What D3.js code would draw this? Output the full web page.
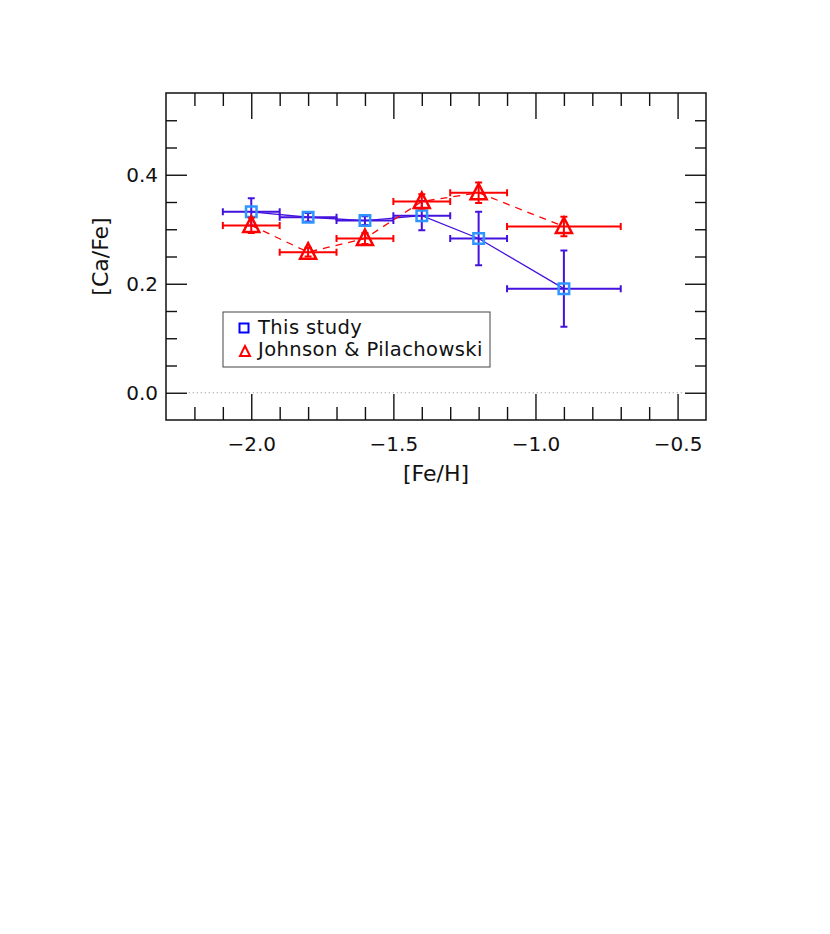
<!DOCTYPE html>
<html>
<head>
<meta charset="utf-8">
<script src="https://cdn.jsdelivr.net/npm/d3@7"></script>
<style>
  body { margin: 0; background: #fff; }
  text { font-family: "DejaVu Sans", sans-serif; fill: #111; }
</style>
</head>
<body>
<script>
// [Fe/H] bins
var feh = [-2.0, -1.8, -1.6, -1.4, -1.2, -0.9];

// this study
var studyCa = [0.332, 0.322, 0.316, 0.325, 0.283, 0.191];
var studyErrY = [0.025, 0.008, 0.008, 0.027, 0.049, 0.070];
var studyErrX = [0.1, 0.1, 0.1, 0.1, 0.1, 0.2];

// Johnson & Pilachowski
var jpCa = [0.307, 0.258, 0.283, 0.351, 0.367, 0.305];
var jpErrY = [0.014, 0.008, 0.010, 0.013, 0.019, 0.018];
var jpErrX = [0.1, 0.1, 0.1, 0.1, 0.1, 0.2];

var xMajor = [-2.0, -1.5, -1.0, -0.5];
var xMinor = [-2.2, -2.1, -1.9, -1.8, -1.7, -1.6, -1.4, -1.3, -1.2, -1.1, -0.9, -0.8, -0.7, -0.6];
var yMajor = [0.0, 0.2, 0.4];
var yMinor = [0.05, 0.1, 0.15, 0.25, 0.3, 0.35, 0.45, 0.5];

var legendLabels = ["This study", "Johnson & Pilachowski"];

var W = 830, H = 934;
var margin = {top: 93, right: 124, bottom: 514, left: 166}
  , width = W - margin.left - margin.right
  , height = H - margin.top - margin.bottom;

var blueLine = "#4412dd", squareCol = "#2f96ff", red = "#ff0000";

var svg = d3.select("body").append("svg")
    .attr("width", W)
    .attr("height", H);

var g = svg.append("g")
    .attr("transform", "translate(" + margin.left + "," + margin.top + ")");

var x = d3.scaleLinear().domain([-2.3, -0.4]).range([0, width]);
var y = d3.scaleLinear().domain([-0.05, 0.55]).range([height, 0]);

function fmt(d) { return d3.format(".1f")(d).replace("-", "\u2212"); }

// axes: inward ticks on all four sides
function addAxis(axis, tr, labels) {
  var a = g.append("g").attr("transform", tr).call(axis);
  a.select(".domain").remove();
  a.selectAll("line").attr("stroke", "#111").attr("stroke-width", 1.4);
  if (labels) a.selectAll("text").style("font-size", "20px").attr("fill", "#111");
  return a;
}
addAxis(d3.axisBottom(x).tickValues(xMajor).tickSize(-26).tickPadding(17).tickFormat(fmt), "translate(0," + height + ")", true);
addAxis(d3.axisBottom(x).tickValues(xMinor).tickSize(-13).tickFormat(""), "translate(0," + height + ")");
addAxis(d3.axisTop(x).tickValues(xMajor).tickSize(-26).tickFormat(""), "translate(0,0)");
addAxis(d3.axisTop(x).tickValues(xMinor).tickSize(-13).tickFormat(""), "translate(0,0)");
addAxis(d3.axisLeft(y).tickValues(yMajor).tickSize(-21).tickPadding(8).tickFormat(fmt), "translate(0,0)", true);
addAxis(d3.axisLeft(y).tickValues(yMinor).tickSize(-11).tickFormat(""), "translate(0,0)");
addAxis(d3.axisRight(y).tickValues(yMajor).tickSize(-21).tickFormat(""), "translate(" + width + ",0)");
addAxis(d3.axisRight(y).tickValues(yMinor).tickSize(-11).tickFormat(""), "translate(" + width + ",0)");

g.append("rect")
    .attr("width", width).attr("height", height)
    .attr("fill", "none").attr("stroke", "#111").attr("stroke-width", 1.5);

// zero line
g.append("line")
    .attr("x1", x(-2.22)).attr("x2", x(-0.48))
    .attr("y1", y(0)).attr("y2", y(0))
    .attr("stroke", "#888").attr("stroke-width", 1)
    .attr("stroke-dasharray", "1,3");

// axis titles
g.append("text")
    .attr("x", width / 2).attr("y", height + 61)
    .attr("text-anchor", "middle")
    .style("font-size", "22px")
    .text("[Fe/H]");
g.append("text")
    .attr("transform", "translate(-58," + (height / 2) + ") rotate(-90)")
    .attr("text-anchor", "middle")
    .style("font-size", "22px")
    .text("[Ca/Fe]");

function series(ca, ex, ey, col, dash, marker) {
  var pts = feh.map(function(d, i) { return {x: d, y: ca[i], ex: ex[i], ey: ey[i]}; });
  var s = g.append("g");
  var cap = 3.5;

  s.append("path")
      .datum(pts)
      .attr("fill", "none")
      .attr("stroke", col)
      .attr("stroke-width", 1.3)
      .attr("stroke-dasharray", dash)
      .attr("d", d3.line().x(function(d) { return x(d.x); }).y(function(d) { return y(d.y); }));

  var eb = s.selectAll(".eb").data(pts).enter().append("g")
      .attr("stroke", col).attr("stroke-width", 2).attr("fill", "none");
  eb.append("path").attr("d", function(d) {
    var x0 = x(d.x - d.ex), x1 = x(d.x + d.ex), yy = y(d.y);
    return "M" + x0 + "," + yy + "H" + x1 +
      "M" + x0 + "," + (yy - cap) + "V" + (yy + cap) +
      "M" + x1 + "," + (yy - cap) + "V" + (yy + cap);
  });
  eb.append("path").attr("d", function(d) {
    var y0 = y(d.y - d.ey), y1 = y(d.y + d.ey), xx = x(d.x);
    return "M" + xx + "," + y0 + "V" + y1 +
      "M" + (xx - cap) + "," + y0 + "H" + (xx + cap) +
      "M" + (xx - cap) + "," + y1 + "H" + (xx + cap);
  });

  s.selectAll(".mk").data(pts).enter().append("path")
      .attr("fill", "none")
      .attr("stroke", marker.col)
      .attr("stroke-width", 2.5)
      .attr("d", function(d) { return marker.shape(x(d.x), y(d.y)); });
}

function squareAt(size) {
  return function(cx, cy) {
    var h = size / 2;
    return "M" + (cx - h) + "," + (cy - h) + "h" + size + "v" + size + "h" + (-size) + "Z";
  };
}
function triangleAt(hw, up, down) {
  return function(cx, cy) {
    return "M" + cx + "," + (cy - up) + "L" + (cx + hw) + "," + (cy + down) + "L" + (cx - hw) + "," + (cy + down) + "Z";
  };
}

series(studyCa, studyErrX, studyErrY, blueLine, null, {col: squareCol, shape: squareAt(10.5)});
series(jpCa, jpErrX, jpErrY, red, "7,6", {col: red, shape: triangleAt(8, 9, 6.5)});

// legend
var lg = svg.append("g").attr("transform", "translate(223,312)");
lg.append("rect")
    .attr("width", 267).attr("height", 55)
    .attr("fill", "#fff").attr("stroke", "#444").attr("stroke-width", 1);
lg.append("path")
    .attr("d", squareAt(9)(21, 16))
    .attr("fill", "none").attr("stroke", "#0000ff").attr("stroke-width", 2);
lg.append("path")
    .attr("d", triangleAt(5, 5.5, 4.5)(22, 39.5))
    .attr("fill", "none").attr("stroke", red).attr("stroke-width", 2);
lg.selectAll(".lt").data(legendLabels).enter().append("text")
    .attr("x", 35)
    .attr("y", function(d, i) { return 21.5 + i * 22.7; })
    .style("font-size", "19.5px")
    .style("letter-spacing", "0.4px")
    .text(function(d) { return d; });
</script>
</body>
</html>
